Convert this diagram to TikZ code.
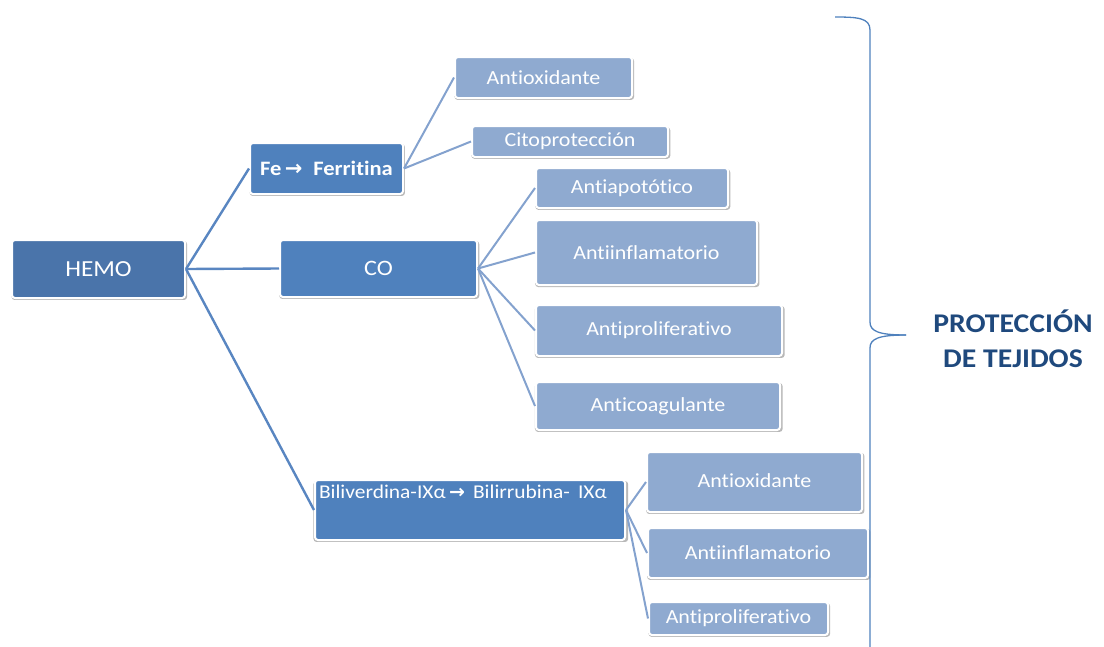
\documentclass[tikz,border=0pt]{standalone}
\usepackage{fontspec}
\setmainfont{Carlito}[FakeStretch=1.1, Ligatures=NoCommon]
\newfontfamily\arrowfont{DejaVu Sans Bold}
\usetikzlibrary{shadows}
\definecolor{hemoblue}{RGB}{74,116,170}
\definecolor{midblue}{RGB}{79,129,189}
\definecolor{leafblue}{RGB}{143,170,208}
\definecolor{linemain}{RGB}{89,134,193}
\definecolor{lineleaf}{RGB}{132,162,206}
\definecolor{titleblue}{RGB}{31,73,125}
\newcommand{\bigarrow}{{\arrowfont\fontsize{21}{22}\selectfont →}}
\tikzset{
  boxbase/.style={draw=white, line width=2pt, rounded corners=3pt, text=white,
    inner sep=0pt, drop shadow={shadow xshift=0.8pt, shadow yshift=-1.5pt, shadow scale=1.015, fill=black, opacity=0.28}},
  hemobox/.style={boxbase, fill=hemoblue, font=\fontsize{23}{24}\selectfont},
  midbox/.style={boxbase, fill=midblue, font=\fontsize{20.5}{22}\selectfont},
  leafbox/.style={boxbase, fill=leafblue, font=\fontsize{20}{22}\selectfont},
  mainline/.style={draw=linemain, line width=2.4pt},
  leafline/.style={draw=lineleaf, line width=2pt},
  bracestyle/.style={draw=midblue, line width=1.3pt},
}
\begin{document}
\begin{tikzpicture}[x=1pt,y=-1pt]
\useasboundingbox (0,0) rectangle (1104,646);
% main boxes
\node[hemobox, minimum width=173pt, minimum height=58pt] (hemo) at (98.5,269) {HEMO};
\node[midbox, minimum width=153pt, minimum height=51pt, font=\bfseries\fontsize{20.5}{22}\selectfont] (fe) at (326.5,168.5) {Fe\,\bigarrow\; Ferritina};
\node[midbox, minimum width=197pt, minimum height=57pt, font=\fontsize{22}{22}\selectfont] (co) at (378.5,268.5) {CO};
\node[midbox, minimum width=310pt, minimum height=60pt, font=\fontsize{19.5}{20}\selectfont] (bili) at (470,510)
  {\parbox[t][50pt][t]{302pt}{\raggedright Biliverdina-IXα\,{\arrowfont\fontsize{19}{20}\selectfont →}\, Bilirrubina-\, IXα}};
% leaves
\node[leafbox, minimum width=177pt, minimum height=41pt] (aox1) at (543.5,77.5) {Antioxidante};
\node[leafbox, minimum width=196pt, minimum height=31pt] (cito) at (570,141.5) {Citoprotección};
\node[leafbox, minimum width=192pt, minimum height=40pt] (apop) at (632,188) {Antiapotótico};
\node[leafbox, minimum width=221pt, minimum height=65pt] (infl1) at (646.5,252.5) {Antiinflamatorio};
\node[leafbox, minimum width=246pt, minimum height=51pt] (prol1) at (659,330.5) {Antiproliferativo};
\node[leafbox, minimum width=244pt, minimum height=48pt] (coag) at (658,406) {Anticoagulante};
\node[leafbox, minimum width=215pt, minimum height=60pt] (aox2) at (754.5,482) {\raisebox{3pt}{Antioxidante}};
\node[leafbox, minimum width=220pt, minimum height=50pt] (infl2) at (758,553) {Antiinflamatorio};
\node[leafbox, minimum width=179pt, minimum height=33pt] (prol2) at (738.5,618.5) {Antiproliferativo};
% connectors
\draw[mainline] (hemo.east) -- (fe.west);
\draw[mainline] (hemo.east) -- (co.west);
\draw[mainline] (hemo.east) -- (bili.west);
\draw[leafline] (fe.east) -- (aox1.west);
\draw[leafline] (fe.east) -- (cito.west);
\draw[leafline] (co.east) -- (apop.west);
\draw[leafline] (co.east) -- (infl1.west);
\draw[leafline] (co.east) -- (prol1.west);
\draw[leafline] (co.east) -- (coag.west);
\draw[leafline] (bili.east) -- (aox2.west);
\draw[leafline] (bili.east) -- (infl2.west);
\draw[leafline] (bili.east) -- (prol2.west);
% brace
\coordinate (bracetop) at (835,17);
\coordinate (bracetip) at (906,335);
\coordinate (bracebottom) at (870,650);
\draw[bracestyle] (bracetop) .. controls (858,17) and (870,18) .. (870,30)
  -- (870,322) .. controls (870,331) and (878,335) .. (bracetip);
\draw[bracestyle] (bracetip) .. controls (878,335) and (870,339) .. (870,348) -- (bracebottom);
\node[text=titleblue, font=\bfseries\fontsize{27}{35}\selectfont, align=center] (title) at (1013,339)
  {PROTECCIÓN\\DE TEJIDOS};
\end{tikzpicture}
\end{document}
